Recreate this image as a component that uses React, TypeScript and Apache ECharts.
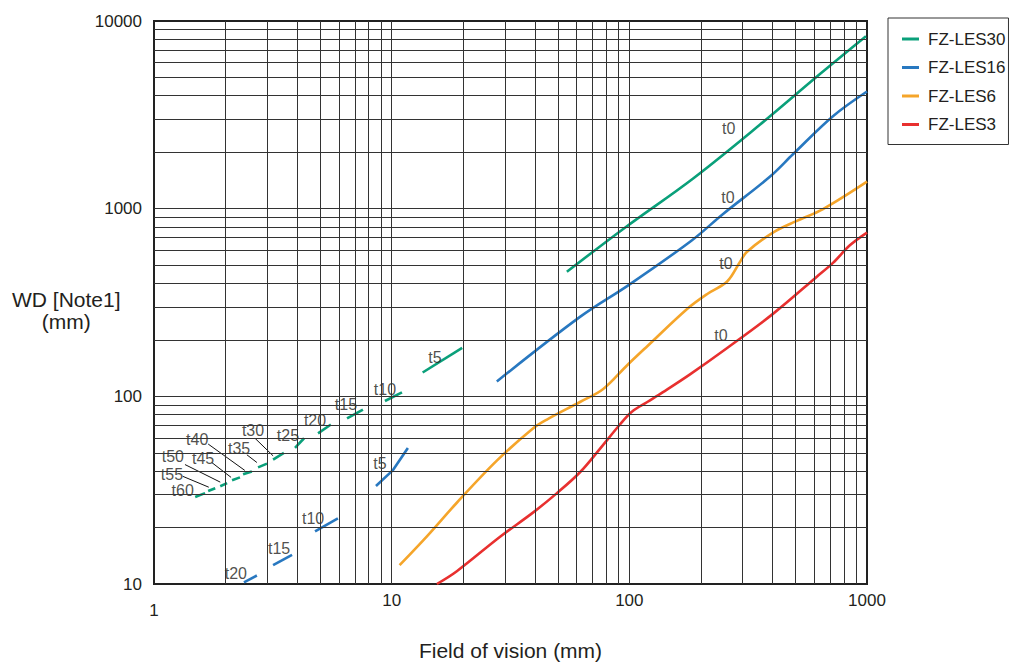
import React, { useEffect, useRef } from 'react';
import * as echarts from 'echarts';

const FONT = '"Liberation Sans", Arial, Helvetica, sans-serif';
const TXT = '#231f20';
const GRID = '#333333';

const seriesNames = ['FZ-LES30', 'FZ-LES16', 'FZ-LES6', 'FZ-LES3'];
const seriesColors = ['#0aa07a', '#2878c0', '#f5a52a', '#e8302f'];

const xTicks = [1, 10, 100, 1000];
const yTicks = [10, 100, 1000, 10000];

// FZ-LES30 (green)
const les30Main = [[54.6, 461], [95.8, 792], [185, 1445], [354, 2800], [634, 5220], [990, 8300]];
const les30T5 = [[13.5, 134], [19.8, 181]];
const les30T10 = [[9.37, 94.4], [11.05, 105]];
const les30T15 = [[6.49, 76.2], [7.57, 84.9]];
const les30T20 = [[4.9, 63.5], [5.55, 70.8]];
const les30T25 = [[3.92, 53.1], [4.28, 59.8]];
const les30T30 = [[3.17, 46.0], [3.52, 50.0]];
const les30T35 = [[2.74, 41.8], [2.99, 43.8]];
const les30T40 = [[2.37, 38.4], [2.58, 39.8]];
const les30T45 = [[2.13, 35.7], [2.3, 37.0]];
const les30T50 = [[1.9, 33.2], [2.03, 34.5]];
const les30T55 = [[1.69, 31.3], [1.81, 32.4]];
const les30T60 = [[1.49, 29.1], [1.64, 30.5]];

// FZ-LES16 (blue)
const les16Main = [[27.7, 120], [62, 265], [100, 394], [183, 677], [248, 937], [390, 1479], [488, 1950], [719, 3110], [1000, 4210]];
const les16T5 = [[8.59, 33.3], [10.1, 40.3], [11.7, 53.1]];
const les16T10 = [[4.76, 19.1], [5.94, 22.4]];
const les16T15 = [[3.17, 12.6], [3.81, 14.3]];
const les16T20 = [[2.39, 10.2], [2.71, 11.1]];

// FZ-LES6 (orange)
const les6Main = [[10.8, 12.6], [14.1, 18.0], [18.8, 27.1], [27.7, 45.4], [39.3, 67.4], [45, 75.2], [62, 93.3], [77.4, 109], [97.7, 146], [119, 185], [175, 292], [212, 350], [258, 409], [292, 520], [312, 587], [402, 746], [507, 861], [653, 995], [1000, 1393]];

// FZ-LES3 (red)
const les3Main = [[15.5, 10.0], [18.8, 11.7], [28.5, 17.8], [39.3, 24], [49.6, 30.5], [62, 39.4], [75.2, 52.5], [91.3, 70.8], [102.5, 82.8], [119, 93.3], [138, 105], [180, 131], [258, 181], [402, 275], [615, 434], [719, 514], [847, 638], [1000, 746]];

// annotation labels [x, y, text]
const labelPoints: [number, number, string][] = [
  [262, 2670, 't0'], [260, 1150, 't0'], [255, 508, 't0'], [243, 211, 't0'],
  [15.2, 162, 't5'], [9.37, 109, 't10'], [6.42, 90.2, 't15'], [4.76, 74.3, 't20'],
  [3.66, 62.1, 't25'], [2.61, 65.9, 't30'], [2.28, 52.5, 't35'], [1.52, 59.2, 't40'],
  [1.61, 46.6, 't45'], [1.2, 47.7, 't50'], [1.19, 38.3, 't55'], [1.32, 31.5, 't60'],
  [8.93, 43.9, 't5'], [4.67, 22.4, 't10'], [3.36, 15.4, 't15'], [2.21, 11.4, 't20'],
];

// leader lines from labels to dashes
const leaders = [
  [[2.66, 59.8], [3.17, 48.2]],
  [[2.46, 48.8], [2.71, 44.4]],
  [[1.69, 55.7], [2.41, 40.3]],
  [[1.75, 44.4], [2.11, 37.0]],
  [[1.35, 43.3], [1.9, 34.9]],
  [[1.32, 37.5], [1.7, 32.8]],
];

const groups: [number, number[][][]][] = [
  [0, [les30Main, les30T5, les30T10, les30T15, les30T20, les30T25, les30T30, les30T35, les30T40, les30T45, les30T50, les30T55, les30T60]],
  [1, [les16Main, les16T5, les16T10, les16T15, les16T20]],
  [2, [les6Main]],
  [3, [les3Main]],
];

function buildOption() {
  const xGrid: any[] = [];
  const yGrid: any[] = [];
  [1, 10, 100].forEach((d) => {
    for (let k = 2; k <= 10; k++) if (k * d < 1000) xGrid.push({ xAxis: k * d });
  });
  [10, 100, 1000].forEach((d) => {
    for (let k = 2; k <= 10; k++) if (k * d < 10000) yGrid.push({ yAxis: k * d });
  });

  const series: any[] = [
    {
      name: 'gridlines',
      type: 'line',
      data: [[1, 10]],
      showSymbol: false,
      symbol: 'none',
      silent: true,
      z: 1,
      lineStyle: { width: 0 },
      markLine: {
        silent: true,
        symbol: 'none',
        label: { show: false },
        animation: false,
        lineStyle: { color: GRID, width: 1, type: 'solid' },
        emphasis: { disabled: true },
        data: [...xGrid, ...yGrid],
      },
    },
  ];

  groups.forEach(([ci, segs]) => {
    segs.forEach((seg) => {
      series.push({
        name: seriesNames[ci],
        type: 'line',
        data: seg,
        smooth: seg.length > 3 ? 0.35 : false,
        showSymbol: false,
        symbol: 'none',
        z: 3,
        color: seriesColors[ci],
        lineStyle: { color: seriesColors[ci], width: 2.6 },
      });
    });
  });

  leaders.forEach((l) => {
    series.push({
      name: 'leader',
      type: 'line',
      data: l,
      showSymbol: false,
      symbol: 'none',
      silent: true,
      z: 2,
      lineStyle: { color: '#111', width: 1 },
    });
  });

  series.push({
    name: 'labels',
    type: 'scatter',
    symbolSize: 1,
    itemStyle: { color: 'rgba(0,0,0,0)' },
    silent: true,
    z: 4,
    data: labelPoints.map((p) => ({ value: [p[0], p[1]], name: p[2] })),
    label: {
      show: true,
      position: 'inside',
      formatter: (p: any) => p.name,
      color: TXT,
      fontSize: 16,
      lineHeight: 15,
      fontFamily: FONT,
    },
  });

  return {
    animation: false,
    backgroundColor: '#ffffff',
    textStyle: { fontFamily: FONT },
    grid: {
      left: 154,
      right: 143,
      top: 21,
      bottom: 70,
      show: true,
      borderColor: '#222',
      borderWidth: 2,
      backgroundColor: 'transparent',
    },
    legend: {
      orient: 'vertical',
      left: 888,
      top: 18,
      padding: [11, 3, 10, 14],
      borderColor: '#333',
      borderWidth: 1,
      icon: 'rect',
      itemWidth: 17,
      itemHeight: 3,
      itemGap: 8.5,
      data: seriesNames,
      textStyle: { fontSize: 17, color: TXT, fontFamily: FONT, lineHeight: 20, padding: [0, 0, 0, 4] },
    },
    xAxis: {
      type: 'log',
      logBase: 10,
      min: xTicks[0],
      max: xTicks[xTicks.length - 1],
      splitNumber: 3,
      name: 'Field of vision (mm)',
      nameLocation: 'middle',
      nameGap: 56,
      nameTextStyle: { fontSize: 21, color: TXT, fontFamily: FONT },
      axisLine: { show: true, lineStyle: { color: '#222', width: 2 } },
      axisTick: { show: false },
      splitLine: { show: false },
      axisLabel: {
        margin: 8,
        color: TXT,
        fontSize: 17,
        fontFamily: FONT,
        formatter: (v: number) => {
          const n = Math.round(v);
          if (!xTicks.includes(n)) return '';
          return n === 1 ? '{low|1}' : '{n|' + n + '}';
        },
        rich: {
          low: { fontSize: 17, color: TXT, fontFamily: FONT, padding: [10, 0, 0, 0] },
          n: { fontSize: 17, color: TXT, fontFamily: FONT },
        },
      },
    },
    yAxis: {
      type: 'log',
      logBase: 10,
      min: yTicks[0],
      max: yTicks[yTicks.length - 1],
      splitNumber: 3,
      axisLine: { show: true, lineStyle: { color: '#222', width: 2 } },
      axisTick: { show: false },
      splitLine: { show: false },
      axisLabel: {
        margin: 12,
        color: TXT,
        fontSize: 17,
        fontFamily: FONT,
        formatter: (v: number) => {
          const n = Math.round(v);
          return yTicks.includes(n) ? String(n) : '';
        },
      },
    },
    graphic: [
      {
        type: 'text',
        left: 12,
        top: 288,
        style: {
          text: 'WD [Note1]\n(mm)',
          fill: TXT,
          font: '21px ' + FONT,
          textAlign: 'center',
          lineHeight: 22,
          x: 54,
        },
      },
    ],
    series,
  };
}

export default function App() {
  const ref = useRef<HTMLDivElement>(null);
  useEffect(() => {
    const chart = echarts.init(ref.current!, null, { renderer: 'svg' });
    chart.setOption(buildOption() as any);
    return () => chart.dispose();
  }, []);
  return (
    <div
      ref={ref}
      style={{ position: 'fixed', left: 0, top: 0, width: 1010, height: 666, background: '#fff' }}
    />
  );
}
